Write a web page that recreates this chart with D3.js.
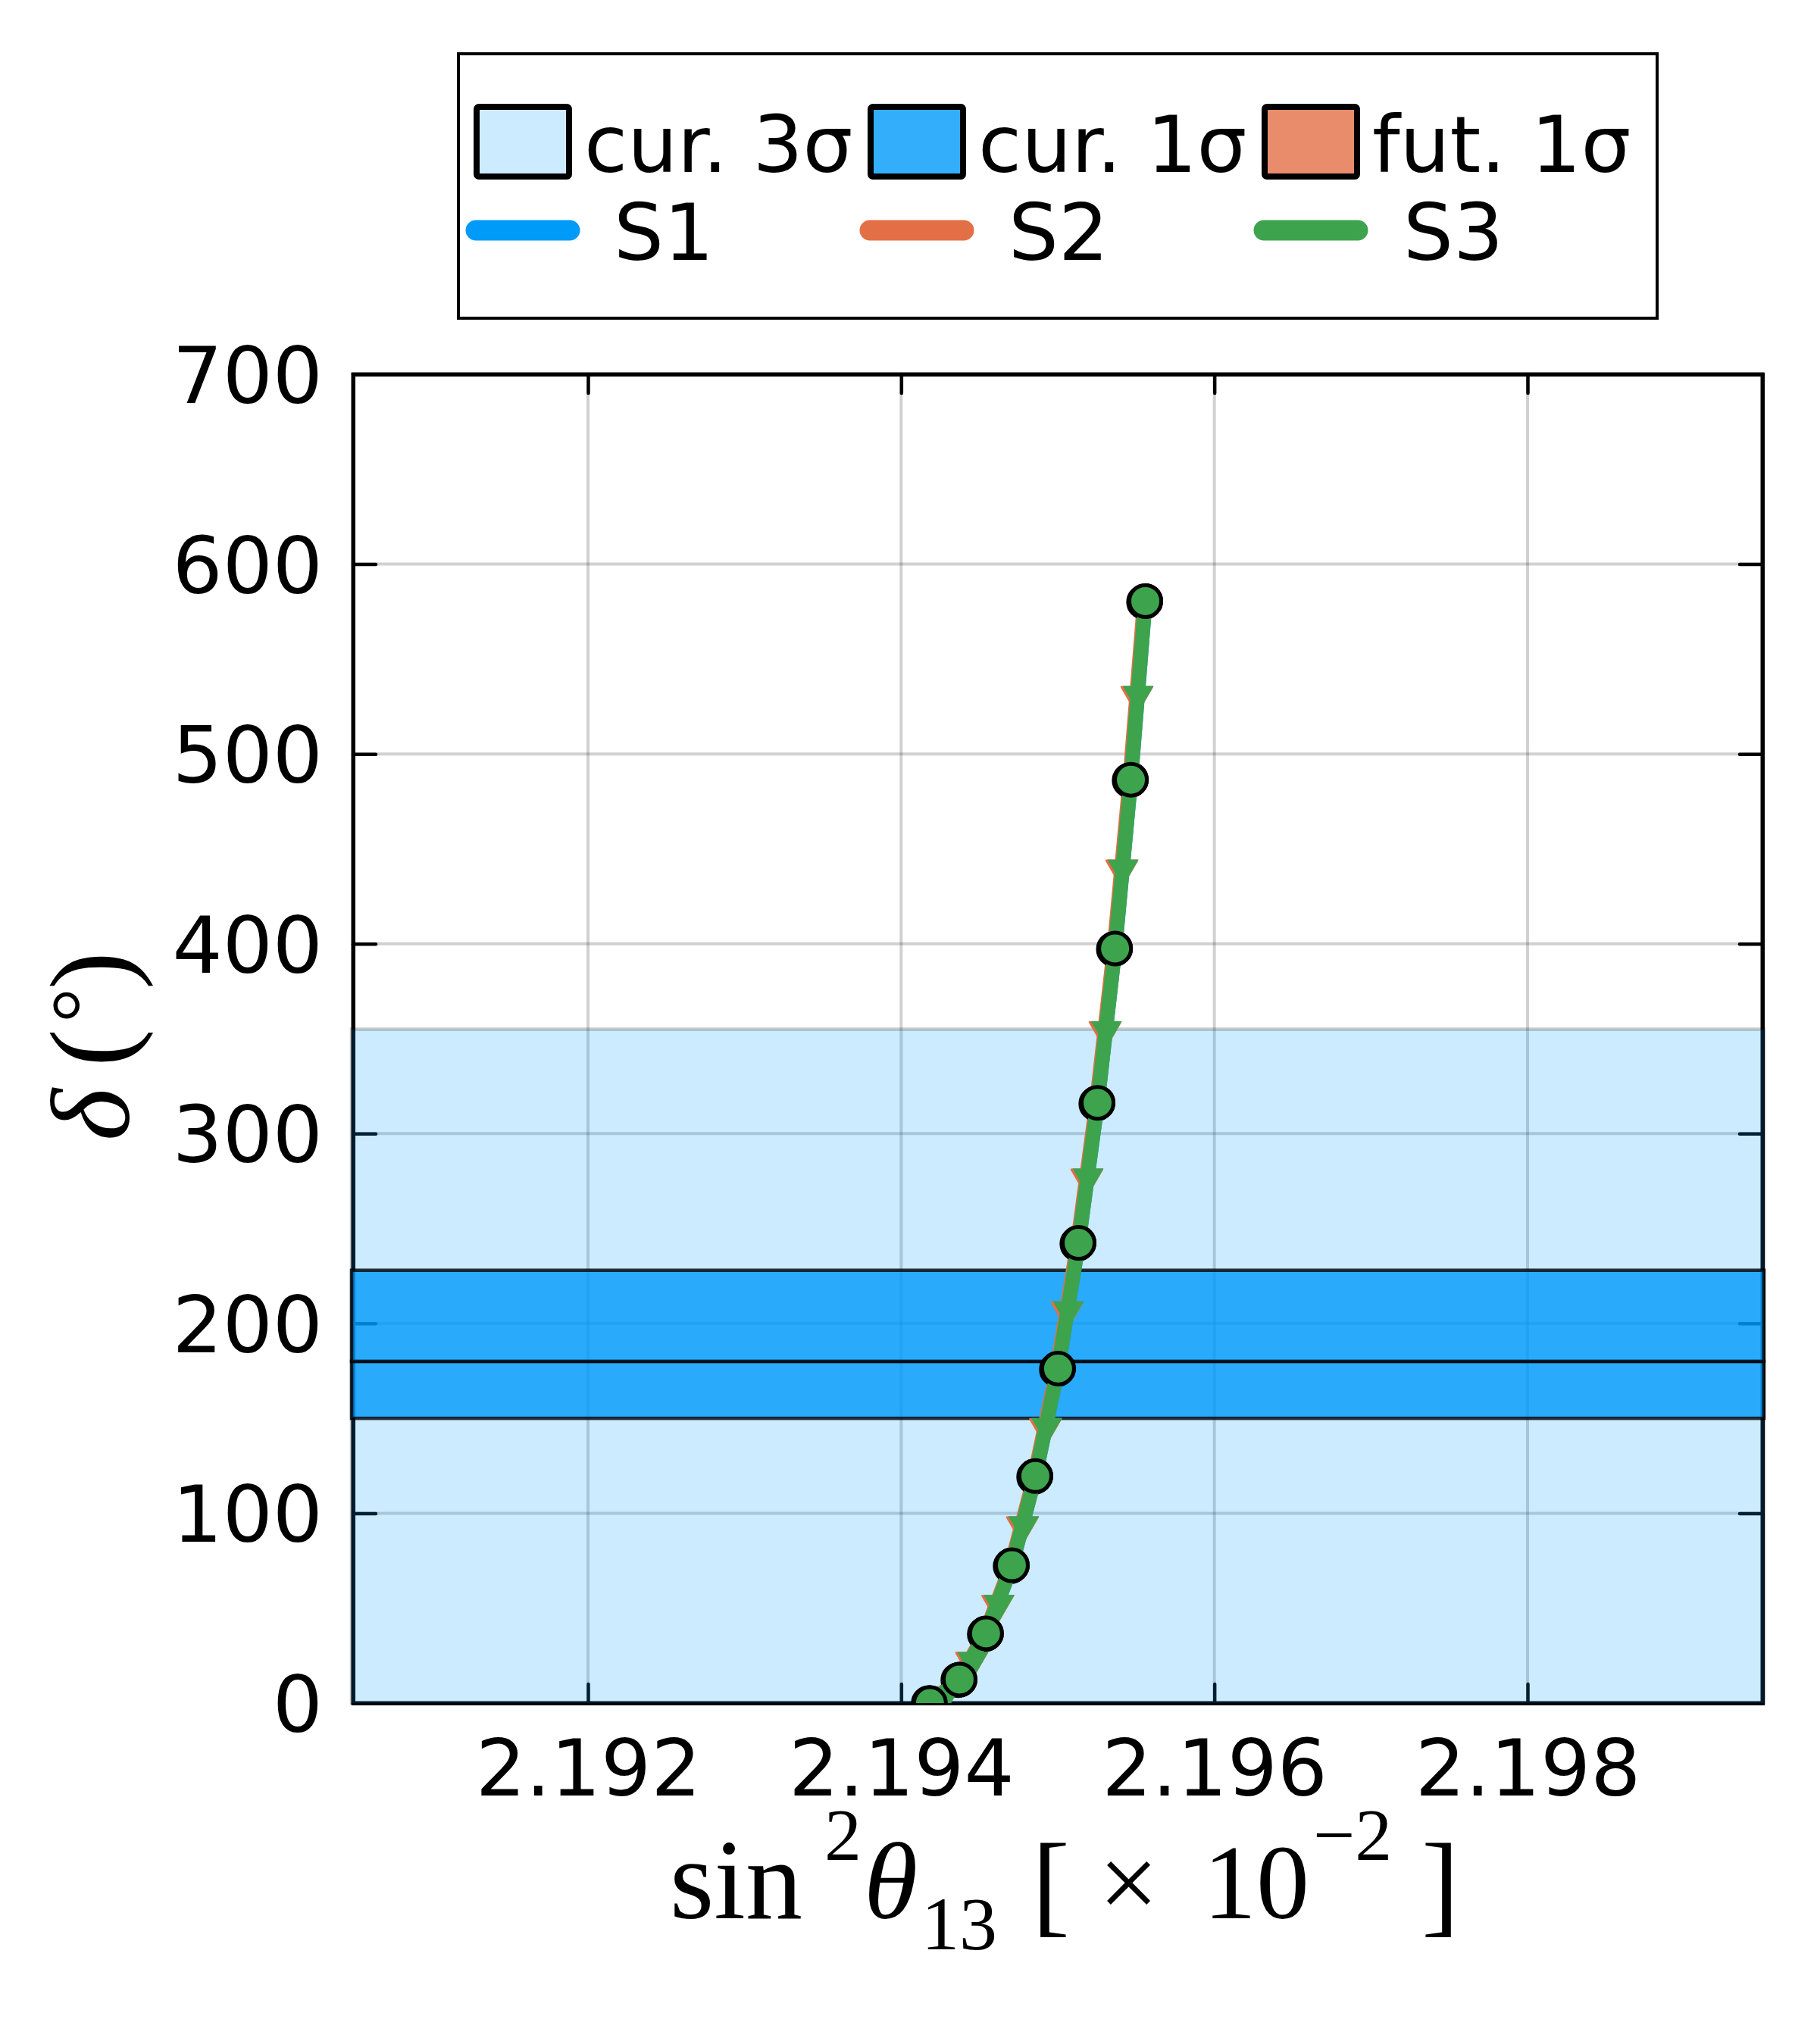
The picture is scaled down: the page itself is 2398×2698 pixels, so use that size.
<!DOCTYPE html>
<html><head><meta charset="utf-8">
<script src="https://cdn.jsdelivr.net/npm/d3@7"></script>
<style>html,body{margin:0;padding:0;background:#fff}</style>
</head><body>
<script>
// ---------- data ----------
const xTicks = [2.192, 2.194, 2.196, 2.198];
const yTicks = [0, 100, 200, 300, 400, 500, 600, 700];
const xDomain = [2.1905, 2.1995];
const yDomain = [0, 700];

const bandCur3 = [0, 355];        // current 3 sigma range of delta
const bandCur1Low = [150, 180];   // current 1 sigma (lower half)
const bandCur1High = [180, 228];  // current 1 sigma (upper half)

const s1X = [2.194184, 2.194373, 2.194542, 2.194707, 2.194857, 2.195002, 2.195133, 2.195254, 2.195366, 2.195467, 2.195559];
const s1Y = [0, 12.4, 36.7, 72.6, 119.6, 176.2, 242.4, 316.2, 397.5, 486.4, 580.5];
const s2X = [2.194176, 2.194365, 2.194534, 2.194699, 2.194849, 2.194994, 2.195125, 2.195246, 2.195358, 2.195459, 2.195551];
const s2Y = [0, 12.1, 36.3, 72.1, 119.1, 175.7, 241.9, 315.7, 397.1, 486.0, 580.0];
const s3X = [2.194184, 2.194373, 2.194542, 2.194707, 2.194857, 2.195002, 2.195133, 2.195254, 2.195366, 2.195467, 2.195559];
const s3Y = [0, 12.4, 36.7, 72.6, 119.6, 176.2, 242.4, 316.2, 397.5, 486.4, 580.5];

const seriesNames = ["S1", "S2", "S3"];
const seriesColors = ["#009af9", "#e26f46", "#3da44d"];
const bandNames = ["cur. 3σ", "cur. 1σ", "fut. 1σ"];
const bandColors = ["#009af9", "#009af9", "#e26f46"];
const bandAlphas = [0.2, 0.8, 0.8];

// ---------- layout ----------
const W = 2398, H = 2698;
const L = 466, R = 2326, T = 494, B = 2248;
const tickFont = "'DejaVu Sans', Verdana, sans-serif";
const serif = "'Liberation Serif', 'Times New Roman', serif";

const svg = d3.select("body").append("svg")
  .attr("width", W).attr("height", H)
  .attr("xmlns", "http://www.w3.org/2000/svg");
svg.append("rect").attr("width", W).attr("height", H).attr("fill", "#fff");

const x = d3.scaleLinear().domain(xDomain).range([L, R]);
const y = d3.scaleLinear().domain(yDomain).range([B, T]);

svg.append("defs").append("clipPath").attr("id", "plotclip")
  .append("rect").attr("x", L).attr("y", T).attr("width", R - L).attr("height", B - T);

// ---------- grid ----------
const grid = svg.append("g");
grid.selectAll("line.gx").data(xTicks).join("line")
  .attr("x1", d => x(d)).attr("x2", d => x(d)).attr("y1", T).attr("y2", B)
  .attr("stroke", "rgba(0,0,0,0.18)").attr("stroke-width", 4);
grid.selectAll("line.gy").data(yTicks).join("line")
  .attr("y1", d => y(d)).attr("y2", d => y(d)).attr("x1", L).attr("x2", R)
  .attr("stroke", "rgba(0,0,0,0.18)").attr("stroke-width", 4);

// ---------- axes (frame + ticks) ----------
const axB = svg.append("g").attr("transform", `translate(0,${B})`)
  .call(d3.axisBottom(x).tickValues(xTicks).tickSize(-25).tickFormat(d3.format(".3f")).tickPadding(48));
const axT = svg.append("g").attr("transform", `translate(0,${T})`)
  .call(d3.axisTop(x).tickValues(xTicks).tickSize(-25).tickFormat(""));
const axL = svg.append("g").attr("transform", `translate(${L},0)`)
  .call(d3.axisLeft(y).tickValues(yTicks).tickSize(-30).tickFormat(d3.format("d")).tickPadding(40));
const axR = svg.append("g").attr("transform", `translate(${R},0)`)
  .call(d3.axisRight(y).tickValues(yTicks).tickSize(-30).tickFormat(""));
axT.selectAll(".tick text").remove();
axR.selectAll(".tick text").remove();
[axB, axT, axL, axR].forEach(a => {
  a.select(".domain").attr("stroke", "#000").attr("stroke-width", 5);
  a.selectAll(".tick line").attr("stroke", "#000").attr("stroke-width", 4.5).attr("stroke-linecap", "round");
  a.selectAll(".tick text").attr("fill", "#000").attr("font-family", tickFont).attr("font-size", 104);
});
axL.selectAll(".tick text").attr("dy", "0.36em");
axB.selectAll(".tick text").attr("dy", "0.71em");
svg.append("rect").attr("x", L).attr("y", T).attr("width", R - L).attr("height", B - T)
  .attr("fill", "none").attr("stroke", "#000").attr("stroke-width", 5);

// ---------- bands ----------
const bands = svg.append("g");
function band(range, color, alpha) {
  bands.append("rect")
    .attr("x", x(xDomain[0]) - 2).attr("width", x(xDomain[1]) - x(xDomain[0]) + 4)
    .attr("y", y(range[1])).attr("height", y(range[0]) - y(range[1]))
    .attr("fill", color).attr("fill-opacity", alpha)
    .attr("stroke", "#000").attr("stroke-opacity", alpha).attr("stroke-width", 4.5);
}
band(bandCur3, bandColors[0], bandAlphas[0]);
band(bandCur1Low, bandColors[1], bandAlphas[1]);
band(bandCur1High, bandColors[1], bandAlphas[1]);

// ---------- series ----------
const plot = svg.append("g").attr("clip-path", "url(#plotclip)");
const seriesData = [d3.zip(s1X, s1Y), d3.zip(s2X, s2Y), d3.zip(s3X, s3Y)];
const line = d3.line().x(d => x(d[0])).y(d => y(d[1]));
const tri = d3.symbol().type(d3.symbolTriangle).size(720);

seriesData.forEach((pts, i) => {
  const g = plot.append("g");
  const c = seriesColors[i];
  g.append("path").attr("d", line(pts)).attr("fill", "none")
    .attr("stroke", c).attr("stroke-width", 19)
    .attr("stroke-linejoin", "round").attr("stroke-linecap", "round");
  const mids = d3.pairs(pts).map(([a, b]) => [(x(a[0]) + x(b[0])) / 2, (y(a[1]) + y(b[1])) / 2]);
  g.selectAll("path.tri").data(mids).join("path")
    .attr("d", tri)
    .attr("transform", d => `translate(${d[0]},${d[1] + 6}) rotate(180)`)
    .attr("fill", c)
    .attr("stroke", i === 1 ? c : "none").attr("stroke-width", 2.5).attr("stroke-linejoin", "round");
  g.selectAll("circle").data(pts).join("circle")
    .attr("cx", d => x(d[0])).attr("cy", d => y(d[1])).attr("r", 21)
    .attr("fill", c).attr("stroke", "#000").attr("stroke-width", 5);
});

// ---------- legend ----------
const leg = svg.append("g");
leg.append("rect").attr("x", 605).attr("y", 71).attr("width", 1582).attr("height", 349)
  .attr("fill", "#fff").attr("stroke", "#000").attr("stroke-width", 4);
bandNames.forEach((name, i) => {
  const px = 625 + i * 520;
  leg.append("rect").attr("x", px + 4).attr("y", 141).attr("width", 122).attr("height", 92)
    .attr("rx", 3)
    .attr("fill", bandColors[i]).attr("fill-opacity", bandAlphas[i])
    .attr("stroke", "#000").attr("stroke-width", 8);
  leg.append("text").attr("x", px + 146).attr("y", 227)
    .attr("font-family", tickFont).attr("font-size", 104).attr("fill", "#000").text(name);
});
seriesNames.forEach((name, i) => {
  const lx = 628 + i * 520;
  leg.append("line").attr("x1", lx).attr("x2", lx + 124).attr("y1", 304).attr("y2", 304)
    .attr("stroke", seriesColors[i]).attr("stroke-width", 27).attr("stroke-linecap", "round");
  leg.append("text").attr("x", 810 + i * 521).attr("y", 343)
    .attr("font-family", tickFont).attr("font-size", 104).attr("fill", "#000").text(name);
});

// ---------- x axis label: sin^2 θ_13 [ × 10^-2 ] (one text element) ----------
const xPieces = [
  {t: "sin", x: 884, y: 2532, s: 150, it: false},
  {t: "2", x: 1088, y: 2455, s: 98, it: false},
  {t: "θ", x: 1140, y: 2532, s: 145, it: true},
  {t: "13", x: 1216, y: 2573, s: 100, it: false},
  {t: "[", x: 1362, y: 2537, s: 150, it: false},
  {t: "×", x: 1450, y: 2532, s: 140, it: false},
  {t: "10", x: 1588, y: 2532, s: 140, it: false},
  {t: "−2", x: 1733, y: 2455, s: 98, it: false},
  {t: "]", x: 1876, y: 2537, s: 150, it: false}
];
const xl = svg.append("text").attr("font-family", serif).attr("fill", "#000");
xPieces.forEach(p => {
  xl.append("tspan").attr("x", p.x).attr("y", p.y).attr("font-size", p.s)
    .attr("font-style", p.it ? "italic" : "normal").text(p.t);
});

// ---------- y axis label: δ (°) (one text element) ----------
const yl = svg.append("text").attr("transform", "translate(170,1502) rotate(-90)")
  .attr("font-family", serif).attr("fill", "#000");
[
  {t: "δ", x: -4, y: 0, s: 148, it: true},
  {t: "(", x: 94, y: 0, s: 150, it: false},
  {t: "°", x: 152, y: -24, s: 115, it: false},
  {t: ")", x: 196, y: 0, s: 150, it: false}
].forEach(p => {
  yl.append("tspan").attr("x", p.x).attr("y", p.y).attr("font-size", p.s)
    .attr("font-style", p.it ? "italic" : "normal").text(p.t);
});
</script>
</body></html>
